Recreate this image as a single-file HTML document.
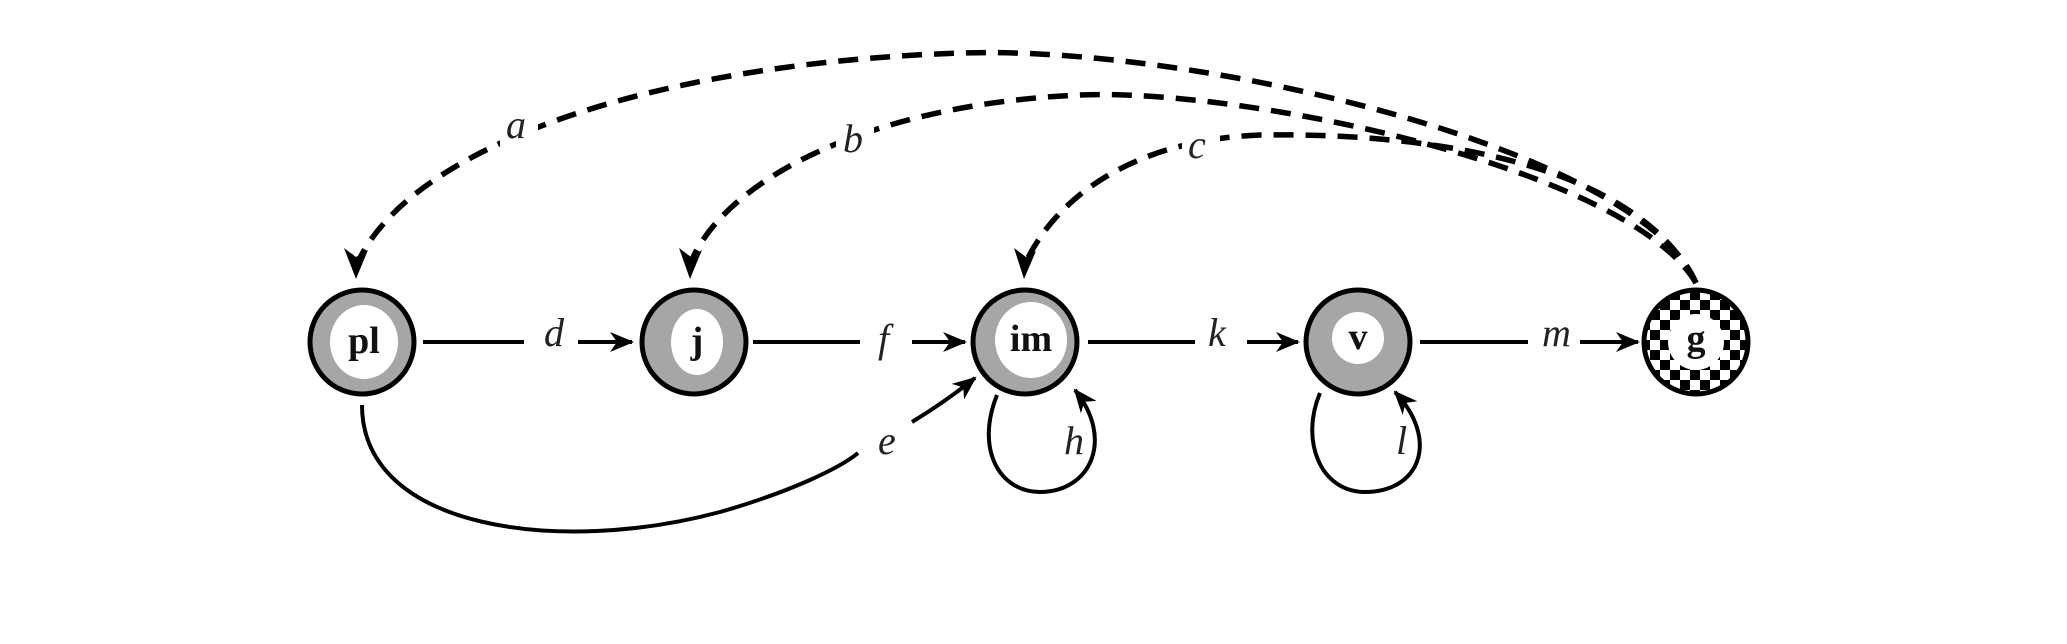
<!DOCTYPE html>
<html><head><style>
html,body{margin:0;padding:0;background:#fff;}
svg{display:block}
text{font-family:"Liberation Serif",serif;}
.lab{font-style:italic;font-size:40px;fill:#222;}
.nl{font-weight:bold;font-size:38px;fill:#111;text-anchor:middle;}
</style></head><body>
<svg width="2067" height="644" viewBox="0 0 2067 644" xmlns="http://www.w3.org/2000/svg">
<defs>
<marker id="ar" viewBox="0 0 24 22" refX="22" refY="11" markerWidth="24" markerHeight="22" markerUnits="userSpaceOnUse" orient="auto">
<path d="M0,1 L24,11 L0,21 L7,11 Z" fill="#000"/>
</marker>
<pattern id="chk" width="20" height="20" patternUnits="userSpaceOnUse" x="0" y="0">
<rect width="20" height="20" fill="#fff"/>
<rect width="10" height="10" fill="#000"/>
<rect x="10" y="10" width="10" height="10" fill="#000"/>
</pattern>
</defs>
<g fill="none" stroke="#000" stroke-width="5.5" stroke-dasharray="20 12">
<path d="M1696,283 C1640,150 1200,45 960,53 C640,64 410,150 358,262"/>
<path d="M1696,283 C1630,170 1250,88 1080,95 C870,104 725,180 691,262"/>
<path d="M1696,283 C1640,170 1450,132 1260,135 C1130,140 1055,200 1026,262"/>
</g>
<g fill="#000">
<path d="M356,279 L344,248 L356,257 L368,250 Z"/>
<path d="M690,279 L679,248 L691,257 L702,250 Z"/>
<path d="M1024,279 L1014,248 L1026,257 L1036,251 Z"/>
</g>
<rect x="500" y="100" width="38" height="46" fill="#fff"/>
<rect x="836" y="112" width="38" height="50" fill="#fff"/>
<rect x="1182" y="120" width="38" height="46" fill="#fff"/>
<text class="lab" x="506" y="138">a</text>
<text class="lab" x="843" y="152">b</text>
<text class="lab" x="1188" y="158">c</text>
<g stroke="#000" stroke-width="4" fill="none">
<line x1="423" y1="342" x2="524" y2="342"/>
<line x1="578" y1="342" x2="632" y2="342" marker-end="url(#ar)"/>
<line x1="753" y1="342" x2="860" y2="342"/>
<line x1="912" y1="342" x2="965" y2="342" marker-end="url(#ar)"/>
<line x1="1088" y1="342" x2="1195" y2="342"/>
<line x1="1247" y1="342" x2="1298" y2="342" marker-end="url(#ar)"/>
<line x1="1420" y1="342" x2="1528" y2="342"/>
<line x1="1580" y1="342" x2="1638" y2="342" marker-end="url(#ar)"/>
<path d="M362,405 C362,530 560,555 720,512 C790,492 840,468 858,453"/>
<path d="M912,422 C940,405 960,390 975,378" marker-end="url(#ar)"/>
<path d="M997,395 C975,450 1000,492 1040,492 C1090,492 1115,440 1075,390" marker-end="url(#ar)"/>
<path d="M1320,393 C1300,440 1320,492 1365,492 C1420,492 1440,440 1395,392" marker-end="url(#ar)"/>
</g>
<text class="lab" x="544" y="346">d</text>
<text class="lab" x="878" y="352">f</text>
<text class="lab" x="1208" y="346">k</text>
<text class="lab" x="1542" y="346">m</text>
<text class="lab" x="878" y="454">e</text>
<text class="lab" x="1064" y="454">h</text>
<text class="lab" x="1396" y="454">l</text>
<g stroke="#000" stroke-width="5">
<circle cx="362" cy="342" r="52" fill="#a6a6a6"/>
<circle cx="694" cy="342" r="52" fill="#a6a6a6"/>
<circle cx="1025" cy="342" r="52" fill="#a6a6a6"/>
<circle cx="1358" cy="342" r="52" fill="#a6a6a6"/>
<circle cx="1696" cy="342" r="52" fill="url(#chk)"/>
</g>
<ellipse cx="364" cy="342" rx="34" ry="37" fill="#fff"/>
<ellipse cx="697" cy="342" rx="26" ry="33" fill="#fff"/>
<ellipse cx="1031" cy="340" rx="36" ry="38" fill="#fff"/>
<circle cx="1358" cy="338" r="26" fill="#fff"/>
<circle cx="1696" cy="342" r="28" fill="#fff"/>
<text class="nl" x="364" y="353">pl</text>
<text class="nl" x="697" y="353">j</text>
<text class="nl" x="1031" y="351">im</text>
<text class="nl" x="1358" y="349">v</text>
<text class="nl" x="1696" y="351">g</text>
</svg>
</body></html>
